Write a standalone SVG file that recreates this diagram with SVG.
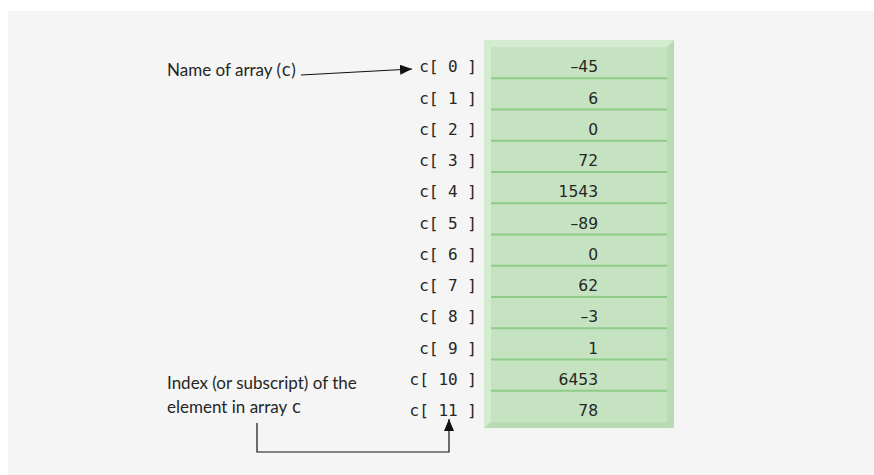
<svg xmlns="http://www.w3.org/2000/svg" width="874" height="475" viewBox="0 0 874 475">
<defs>
<style>
.lbl{font-family:"Lato","Liberation Sans",sans-serif;font-size:17px;fill:#262626}
.mono{font-family:"DejaVu Sans Mono","Liberation Mono",monospace;font-size:17px;fill:#262626}
.val{font-family:"DejaVu Sans","Liberation Sans",sans-serif;font-size:15.5px;fill:#262626;text-anchor:end}
.idx{font-family:"DejaVu Sans Mono","Liberation Mono",monospace;font-size:16px;fill:#262626;text-anchor:end}
.div{stroke:#8fcc88;stroke-width:2}
.conn{fill:none;stroke:#111;stroke-width:1.2}
</style>
<marker id="ah" viewBox="0 0 12 10" refX="12" refY="5" markerWidth="12" markerHeight="10" markerUnits="userSpaceOnUse" orient="auto">
<path d="M0,0 L12,5 L0,10 Z" fill="#111"/>
</marker>
</defs>
<rect x="0" y="0" width="874" height="475" fill="#ffffff"/>
<rect x="8" y="11" width="866" height="464" fill="#f4f5f4"/>
<g id="array">
<rect x="484" y="40" width="190" height="388" fill="#c5e3c0"/>
<polygon points="484,40 674,40 667,47 491,47" fill="#d3ebcf"/>
<polygon points="484,40 491,47 491,422 484,428" fill="#d3ebcf"/>
<polygon points="674,40 674,428 667,422 667,47" fill="#b7dbb2"/>
<polygon points="484,428 674,428 667,422 491,422" fill="#b7dbb2"/>
<g>
<line class="div" x1="491" y1="78.25" x2="667" y2="78.25"/>
<line class="div" x1="491" y1="109.5" x2="667" y2="109.5"/>
<line class="div" x1="491" y1="140.75" x2="667" y2="140.75"/>
<line class="div" x1="491" y1="172" x2="667" y2="172"/>
<line class="div" x1="491" y1="203.25" x2="667" y2="203.25"/>
<line class="div" x1="491" y1="234.5" x2="667" y2="234.5"/>
<line class="div" x1="491" y1="265.75" x2="667" y2="265.75"/>
<line class="div" x1="491" y1="297" x2="667" y2="297"/>
<line class="div" x1="491" y1="328.25" x2="667" y2="328.25"/>
<line class="div" x1="491" y1="359.5" x2="667" y2="359.5"/>
<line class="div" x1="491" y1="390.75" x2="667" y2="390.75"/>
</g>
<g>
<text class="val" x="598" y="72.25">–45</text>
<text class="val" x="598" y="103.5">6</text>
<text class="val" x="598" y="134.75">0</text>
<text class="val" x="598" y="166">72</text>
<text class="val" x="598" y="197.25">1543</text>
<text class="val" x="598" y="228.5">–89</text>
<text class="val" x="598" y="259.75">0</text>
<text class="val" x="598" y="291">62</text>
<text class="val" x="598" y="322.25">–3</text>
<text class="val" x="598" y="353.5">1</text>
<text class="val" x="598" y="384.75">6453</text>
<text class="val" x="598" y="416">78</text>
</g>
<g>
<text class="idx" x="477" y="72.25">c[ 0 ]</text>
<text class="idx" x="477" y="103.5">c[ 1 ]</text>
<text class="idx" x="477" y="134.75">c[ 2 ]</text>
<text class="idx" x="477" y="166">c[ 3 ]</text>
<text class="idx" x="477" y="197.25">c[ 4 ]</text>
<text class="idx" x="477" y="228.5">c[ 5 ]</text>
<text class="idx" x="477" y="259.75">c[ 6 ]</text>
<text class="idx" x="477" y="291">c[ 7 ]</text>
<text class="idx" x="477" y="322.25">c[ 8 ]</text>
<text class="idx" x="477" y="353.5">c[ 9 ]</text>
<text class="idx" x="477" y="384.75">c[ 10 ]</text>
<text class="idx" x="477" y="416">c[ 11 ]</text>
</g>
</g>
<g id="name-label">
<text class="lbl" x="167" y="76">Name of array (<tspan class="mono">c</tspan>)</text>
</g>
<g id="index-label">
<text class="lbl" x="167" y="389">Index (or subscript) of the</text>
<text class="lbl" x="167" y="413">element in array <tspan class="mono">c</tspan></text>
</g>
<g id="connectors">
<path class="conn" d="M301,75 L412,69" marker-end="url(#ah)"/>
<path class="conn" d="M257,423 L257,452 L449,452 L449,419" marker-end="url(#ah)"/>
</g>
</svg>
